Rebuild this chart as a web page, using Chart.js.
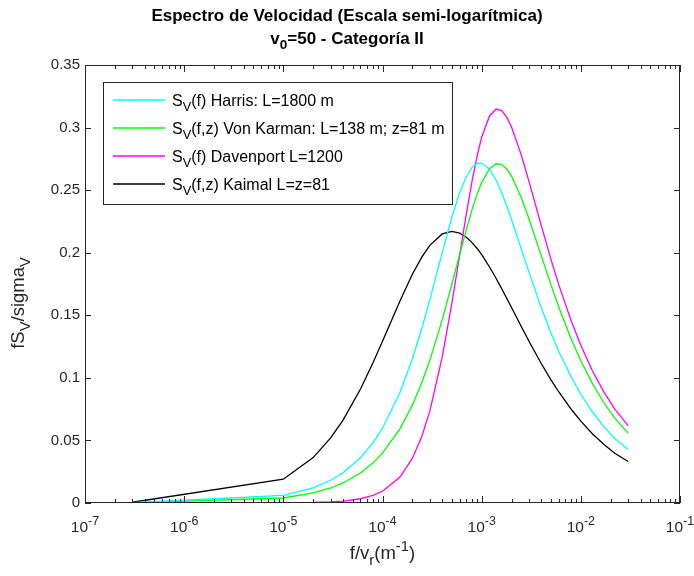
<!DOCTYPE html>
<html>
<head>
<meta charset="utf-8">
<script src="https://cdn.jsdelivr.net/npm/chart.js@4.4.1/dist/chart.umd.min.js"></script>
<style>
  html, body { margin: 0; padding: 0; background: #fff; }
  #wrap { width: 694px; height: 576px; }
</style>
</head>
<body>
<div id="wrap"><canvas id="grafico" width="694" height="576"></canvas></div>
<script>
// f/v_r (1/m)
const frecuencias = [3e-7, 1e-5, 2e-5, 3e-5, 4e-5, 6e-5, 8e-5, 1e-4, 1.5e-4, 2e-4, 2.5e-4, 3e-4, 4e-4, 5e-4, 6e-4, 7e-4, 8e-4, 9e-4,
  1e-3, 1.2e-3, 1.4e-3, 1.6e-3, 1.8e-3, 2e-3, 2.5e-3, 3e-3, 4e-3, 5e-3, 6e-3, 8e-3, 1e-2, 1.3e-2, 1.7e-2, 2.2e-2, 3e-2];

const harris = [0.0002, 0.0061, 0.0121, 0.0182, 0.0242, 0.0362, 0.0481, 0.0598, 0.0883, 0.1151, 0.1398, 0.1623, 0.2001, 0.2283, 0.2480, 0.2607, 0.2681, 0.2713,
  0.2716, 0.2667, 0.2579, 0.2476, 0.2370, 0.2266, 0.2035, 0.1845, 0.1559, 0.1359, 0.1211, 0.1006, 0.0869, 0.0731, 0.0612, 0.0516, 0.0428];
const vonKarman = [0.0001, 0.0040, 0.0080, 0.0120, 0.0160, 0.0240, 0.0319, 0.0398, 0.0592, 0.0782, 0.0965, 0.1140, 0.1463, 0.1746, 0.1986, 0.2185, 0.2344, 0.2468,
  0.2561, 0.2672, 0.2711, 0.2704, 0.2667, 0.2612, 0.2443, 0.2271, 0.1973, 0.1743, 0.1564, 0.1309, 0.1136, 0.0958, 0.0803, 0.0678, 0.0558];
const davenport = [0.0000, 0.0001, 0.0004, 0.0009, 0.0015, 0.0034, 0.0061, 0.0094, 0.0207, 0.0356, 0.0535, 0.0734, 0.1165, 0.1593, 0.1980, 0.2308, 0.2572, 0.2774,
  0.2923, 0.3093, 0.3148, 0.3134, 0.3079, 0.3004, 0.2785, 0.2570, 0.2214, 0.1947, 0.1743, 0.1455, 0.1260, 0.1061, 0.0890, 0.0750, 0.0618];
const kaimal = [0.0006, 0.0190, 0.0363, 0.0520, 0.0662, 0.0911, 0.1118, 0.1292, 0.1615, 0.1828, 0.1967, 0.2059, 0.2150, 0.2171, 0.2157, 0.2124, 0.2081, 0.2034,
  0.1984, 0.1886, 0.1794, 0.1709, 0.1632, 0.1562, 0.1412, 0.1293, 0.1113, 0.0984, 0.0887, 0.0749, 0.0654, 0.0556, 0.0469, 0.0398, 0.0332];

const etiquetas = ['S_{V}(f) Harris: L=1800 m', 'S_{V}(f,z) Von Karman: L=138 m; z=81 m', 'S_{V}(f) Davenport L=1200', 'S_{V}(f,z) Kaimal L=z=81'];
const colores = ['#00ffff', '#00ff00', '#ff00ff', '#000000'];

const ticksX = [1e-7, 1e-6, 1e-5, 1e-4, 1e-3, 1e-2, 1e-1];
const etiquetasX = ['10^{-7}', '10^{-6}', '10^{-5}', '10^{-4}', '10^{-3}', '10^{-2}', '10^{-1}'];
const ticksY = [0, 0.05, 0.1, 0.15, 0.2, 0.25, 0.3, 0.35];
const etiquetasY = ['0', '0.05', '0.1', '0.15', '0.2', '0.25', '0.3', '0.35'];

const titulo = ['Espectro de Velocidad (Escala semi-logarítmica)', 'v_{0}=50 - Categoría II'];
const tituloX = 'f/v_{r}(m^{-1})';
const tituloY = 'fS_{V}/sigma_{V}';

const fuente = '"Liberation Sans", Arial, Helvetica, sans-serif';
const gris = '#262626';

// texto con sub/superindices tipo TeX: a_{b}, a^{b}
function partes(txt) {
  const out = [];
  const re = /([_^])\{([^}]*)\}/g;
  let last = 0, m;
  while ((m = re.exec(txt))) {
    if (m.index > last) out.push({ t: txt.slice(last, m.index), k: 0 });
    out.push({ t: m[2], k: m[1] === '_' ? 1 : -1 });
    last = re.lastIndex;
  }
  if (last < txt.length) out.push({ t: txt.slice(last), k: 0 });
  return out;
}

function fontDe(p, size, peso) {
  const s = p.k === 0 ? size : size * 0.8;
  return `${peso} ${s}px ${fuente}`;
}

function ancho(ctx, txt, size, peso) {
  let w = 0;
  for (const p of partes(txt)) { ctx.font = fontDe(p, size, peso); w += ctx.measureText(p.t).width; }
  return w;
}

function escribir(ctx, txt, x, y, size, peso, align) {
  const w = ancho(ctx, txt, size, peso);
  let cx = align === 'center' ? x - w / 2 : (align === 'right' ? x - w : x);
  ctx.textBaseline = 'alphabetic';
  ctx.textAlign = 'left';
  for (const p of partes(txt)) {
    ctx.font = fontDe(p, size, peso);
    const dy = p.k === 1 ? size * 0.32 : (p.k === -1 ? -size * 0.45 : 0);
    ctx.fillText(p.t, cx, y + dy);
    cx += ctx.measureText(p.t).width;
  }
}

const marco = {
  id: 'marco',
  afterDatasetsDraw(chart) {
    const ctx = chart.ctx;
    const a = chart.chartArea;
    const sx = chart.scales.x, sy = chart.scales.y;
    ctx.save();
    ctx.strokeStyle = gris;
    ctx.lineWidth = 1;
    ctx.strokeRect(Math.round(a.left) + 0.5, Math.round(a.top) + 0.5, Math.round(a.right - a.left) - 1, Math.round(a.bottom - a.top) - 1);

    ctx.beginPath();
    for (const v of ticksY) {
      const y = Math.round(sy.getPixelForValue(v)) + 0.5;
      ctx.moveTo(a.left, y); ctx.lineTo(a.left + 6, y);
      ctx.moveTo(a.right, y); ctx.lineTo(a.right - 6, y);
    }
    for (const v of ticksX) {
      const x = Math.round(sx.getPixelForValue(v)) + 0.5;
      ctx.moveTo(x, a.bottom); ctx.lineTo(x, a.bottom - 7);
      ctx.moveTo(x, a.top); ctx.lineTo(x, a.top + 7);
    }
    for (let d = -7; d < -1; d++) {
      for (let k = 2; k <= 9; k++) {
        const x = Math.round(sx.getPixelForValue(k * Math.pow(10, d))) + 0.5;
        ctx.moveTo(x, a.bottom); ctx.lineTo(x, a.bottom - 4);
        ctx.moveTo(x, a.top); ctx.lineTo(x, a.top + 4);
      }
    }
    ctx.stroke();

    // etiquetas del eje x
    ctx.fillStyle = gris;
    ticksX.forEach((v, i) => escribir(ctx, etiquetasX[i], sx.getPixelForValue(v), 532, 15.5, 'normal', 'center'));

    // titulos de ejes
    escribir(ctx, tituloX, (a.left + a.right) / 2, 559, 18.5, 'normal', 'center');
    ctx.save();
    ctx.translate(24, 303);
    ctx.rotate(-Math.PI / 2);
    escribir(ctx, tituloY, 0, 0, 18.5, 'normal', 'center');
    ctx.restore();

    // titulo
    ctx.fillStyle = '#000';
    escribir(ctx, titulo[0], 347, 21, 17, 'bold', 'center');
    escribir(ctx, titulo[1], 347, 44, 17, 'bold', 'center');

    // leyenda
    const lx = 103, ly = 82, lw = 349, lh = 122;
    ctx.fillStyle = '#fff';
    ctx.fillRect(lx, ly, lw, lh);
    ctx.strokeStyle = gris;
    ctx.strokeRect(lx + 0.5, ly + 0.5, lw, lh);
    chart.data.datasets.forEach((ds, i) => {
      const y = 100 + i * 28;
      ctx.strokeStyle = ds.borderColor;
      ctx.lineWidth = 1.3;
      ctx.beginPath();
      ctx.moveTo(113, y); ctx.lineTo(165, y);
      ctx.stroke();
      ctx.fillStyle = '#000';
      escribir(ctx, ds.label, 172, y + 5.5, 16, 'normal', 'left');
    });
    ctx.restore();
  }
};

const series = [harris, vonKarman, davenport, kaimal];

const ctx = document.getElementById('grafico').getContext('2d');
const chart = new Chart(ctx, {
  type: 'line',
  data: {
    datasets: series.map((s, i) => ({
      label: etiquetas[i],
      data: frecuencias.map((f, j) => ({ x: f, y: s[j] })),
      borderColor: colores[i],
      borderWidth: 1.3,
      pointRadius: 0,
      tension: 0,
      fill: false
    }))
  },
  options: {
    responsive: false,
    animation: false,
    devicePixelRatio: 1,
    layout: { padding: { left: 0, right: 14, top: 65, bottom: 0 } },
    plugins: {
      legend: { display: false },
      title: { display: false },
      tooltip: { enabled: false }
    },
    scales: {
      x: {
        type: 'logarithmic',
        min: 1e-7,
        max: 1e-1,
        grid: { display: false, drawTicks: false },
        border: { display: false },
        ticks: { display: false },
        afterBuildTicks: s => { s.ticks = ticksX.map(v => ({ value: v })); },
        afterFit: s => { s.height = 73; }
      },
      y: {
        min: 0,
        max: 0.35,
        grid: { display: false, drawTicks: false },
        border: { display: false },
        ticks: {
          color: gris,
          font: { family: fuente, size: 15 },
          padding: 5,
          callback: (v, i) => etiquetasY[i]
        },
        afterBuildTicks: s => { s.ticks = ticksY.map(v => ({ value: v })); },
        afterFit: s => { s.width = 85; }
      }
    }
  },
  plugins: [marco]
});
</script>
</body>
</html>
